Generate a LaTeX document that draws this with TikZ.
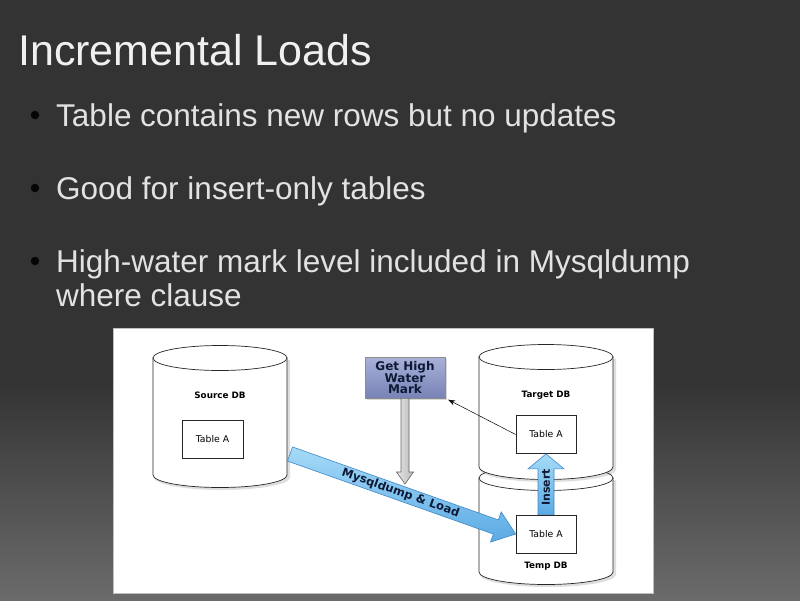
\documentclass[tikz,border=0pt]{standalone}
\usepackage{fontspec}
\setmainfont{Liberation Sans}
\newfontfamily\djv{DejaVu Sans}
\usetikzlibrary{calc,arrows.meta,shadows}
\definecolor{bgtop}{HTML}{333333}
\definecolor{bgbot}{HTML}{6B6B6B}
\definecolor{titlecol}{HTML}{F0F0F0}
\definecolor{bulcol}{HTML}{E2E2E2}
\definecolor{ghtop}{HTML}{A9B1D9}
\definecolor{ghbot}{HTML}{7783B6}
\definecolor{bluetop}{HTML}{A6DBF8}
\definecolor{bluebot}{HTML}{5AAAE4}
\definecolor{blueedge}{HTML}{3E88C6}
\definecolor{navy}{HTML}{0E1A35}
\definecolor{dotcol}{HTML}{050505}
\tikzset{
  cylline/.style={draw=black!85, line width=0.7pt, fill=white},
  cylshadow/.style={fill=black, opacity=0.13},
  tbl/.style={draw=black!85, line width=0.7pt, fill=white, minimum width=61pt,
    minimum height=38pt, inner sep=0pt, font=\djv\fontsize{9.3}{11}\selectfont},
  dblbl/.style={font=\djv\bfseries\fontsize{8.8}{11}\selectfont, inner sep=0pt},
  ghbox/.style={draw=black!45, line width=0.4pt, top color=ghtop, bottom color=ghbot,
    minimum width=80pt, minimum height=41pt, inner sep=0pt, align=center,
    text=navy, font=\djv\bfseries\fontsize{12}{10.8}\selectfont,
    drop shadow={opacity=0.3, shadow xshift=1.5pt, shadow yshift=-1.5pt}},
  bluearrow/.style={draw=blueedge, line width=0.6pt, top color=bluetop, bottom color=bluebot},
  grayarrow/.style={draw=black!60, line width=0.6pt, left color=black!10, right color=black!28},
  thinarr/.style={draw=black, line width=0.5pt, -{Stealth[length=7pt,width=5pt]}},
  bullettext/.style={anchor=base west, inner sep=0pt, text=bulcol, font=\fontsize{31.5}{36}\selectfont},
  bulletdot/.style={circle, fill=dotcol, draw=none, minimum size=8.5pt, inner sep=0pt},
  arrlbl/.style={inner sep=0pt, text=navy, font=\djv\bfseries\fontsize{11.5}{12}\selectfont}
}
% cylinder: centre x, top ellipse y, bottom ellipse y
\newcommand\mycyl[3]{%
  \fill[cylshadow] ({#1-66},{#2+2}) -- ({#1-66},{#3+2.5}) arc[start angle=180,end angle=360,x radius=68pt,y radius=12.5pt] -- ({#1+70},{#2+2}) -- cycle;
  \filldraw[cylline] ({#1-67},{#2}) -- ({#1-67},{#3}) arc[start angle=180,end angle=360,x radius=67pt,y radius=12.5pt] -- ({#1+67},{#2}) -- cycle;
  \filldraw[cylline] (#1,#2) ellipse[x radius=67pt,y radius=12.5pt];
}
% fat arrow: from, to, shaft half width, head half width, head length, style
\newcommand\fatarrow[6]{%
  \coordinate (fa-n) at ($(#2)!#5!(#1)$);
  \path[#6] ($(#1)!#3!90:(#2)$) -- ($(fa-n)!#3!-90:(#1)$) -- ($(fa-n)!#4!-90:(#1)$) -- (#2)
    -- ($(fa-n)!#4!90:(#1)$) -- ($(fa-n)!#3!90:(#1)$) -- ($(#1)!#3!-90:(#2)$) -- cycle;
}
\begin{document}
\begin{tikzpicture}[x=1pt,y=-1pt]
\useasboundingbox (0,0) rectangle (800,600);
% background
\fill[bgtop] (0,0) rectangle (800,600);
\shade[top color=bgtop, bottom color=bgbot] (0,380) rectangle (800,600);
% title
\node[anchor=base west, inner sep=0pt, text=titlecol, font=\fontsize{43}{50}\selectfont] (title) at (18,65) {Incremental Loads};
% bullets
\node[bulletdot] (d1) at (35,115) {};
\node[bullettext] (b1) at (56,126) {Table contains new rows but no updates};
\node[bulletdot] (d2) at (35,188) {};
\node[bullettext] (b2) at (56,199) {Good for insert-only tables};
\node[bulletdot] (d3) at (35,261) {};
\node[bullettext] (b3) at (56,272) {High-water mark level included in Mysqldump};
\node[bullettext] (b4) at (56,306) {where clause};
% diagram panel
\filldraw[fill=white, draw=black!25, line width=0.6pt] (113,328) rectangle (653,593);
% cylinders
\mycyl{220}{358}{475}
\mycyl{546}{478}{572}
\mycyl{546}{357}{467}
% labels and tables
\node[dblbl] (srcname) at (220,395) {Source DB};
\node[tbl] (tA0) at (212.5,439) {Table A};
\node[dblbl] (tgtname) at (546,395) {Target DB};
\node[tbl, minimum width=60pt] (tA1) at (546,434.5) {Table A};
\node[tbl, minimum width=60pt] (tA2) at (546,534) {Table A};
\node[dblbl] (tmpname) at (546,566) {Temp DB};
% high water mark box
\node[ghbox] (gh) at (405,377.5) {Get High\\Water\\Mark};
% gray arrow down
\coordinate (gtip) at (405,484);
\fatarrow{gh.south}{gtip}{4pt}{8.5pt}{12pt}{grayarrow}
% thin arrow from target table to box
\coordinate (ghcorner) at ($(gh.south east)+(3,1.5)$);
\draw[thinarr] (tA1.west) -- (ghcorner);
% mysqldump arrow
\coordinate (mtail) at (290,454);
\fatarrow{mtail}{tA2.west}{7.5pt}{16pt}{21pt}{bluearrow}
\path (mtail) -- (tA2.west) node[arrlbl, pos=0.49, sloped] (mlbl) {Mysqldump \& Load};
% insert arrow
\fatarrow{tA2.north}{tA1.south}{8pt}{18pt}{15pt}{bluearrow}
\path (tA2.north) -- (tA1.south) node[arrlbl, pos=0.45, sloped, font=\djv\bfseries\fontsize{11}{12}\selectfont] (ilbl) {Insert};
\end{tikzpicture}
\end{document}
